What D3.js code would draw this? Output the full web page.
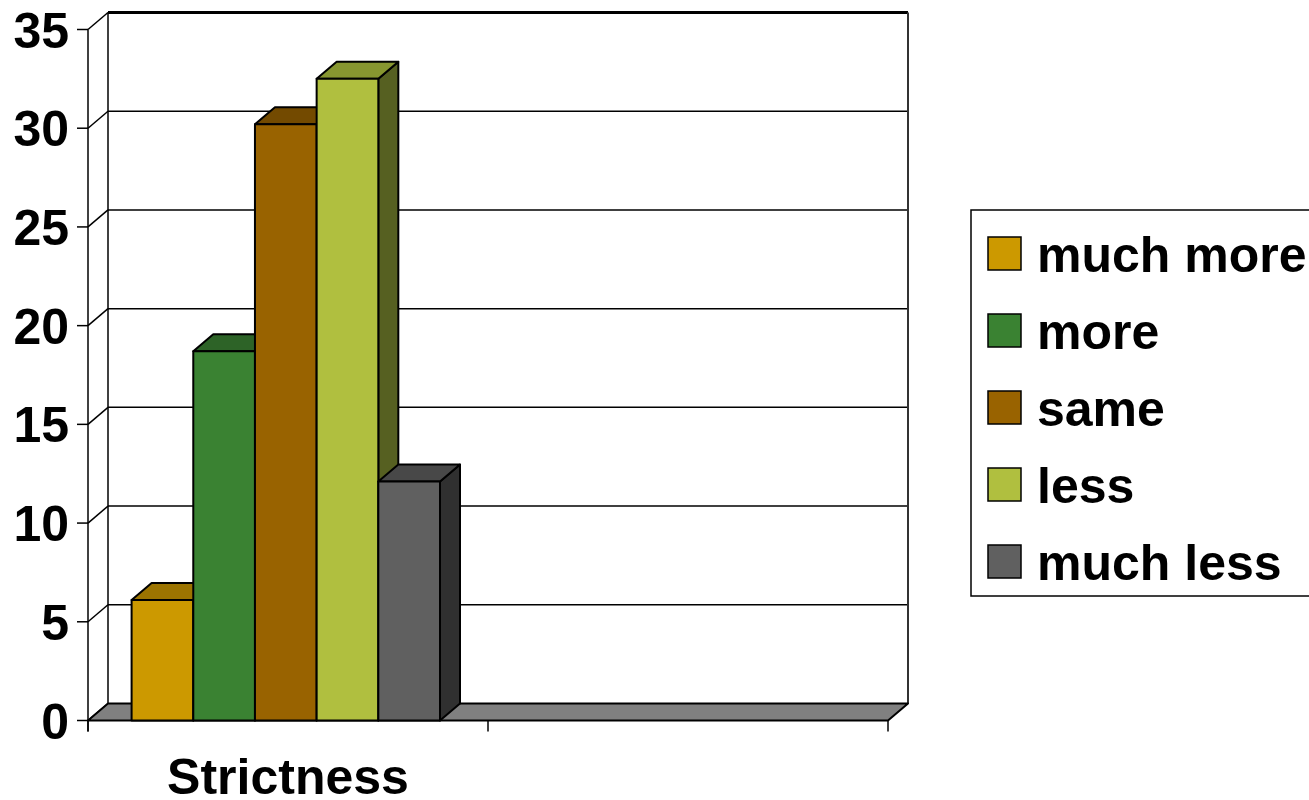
<!DOCTYPE html>
<html>
<head>
<meta charset="utf-8">
<script src="https://cdn.jsdelivr.net/npm/d3@7"></script>
<style>
  html, body { margin: 0; padding: 0; background: #fff; }
  svg { display: block; }
  text { font-family: "Liberation Sans", Arial, sans-serif; font-weight: bold; fill: #000; }
</style>
</head>
<body>
<svg id="chart" width="1309" height="800"></svg>
<script>
// Survey answers for one question, percent of respondents
const categories = ["Strictness", ""];
const seriesNames = ["much more", "more", "same", "less", "much less"];
const seriesValues = [6.1, 18.7, 30.2, 32.5, 12.1];
const yTicks = [0, 5, 10, 15, 20, 25, 30, 35];

// Face colours per series: front, top, side
const frontColors = ["#CC9900", "#3A8232", "#996300", "#B0BF3F", "#606060"];
const topColors   = ["#9C7400", "#2D6327", "#734A00", "#879630", "#484848"];
const sideColors  = ["#7A5B00", "#234D1E", "#5A3A00", "#566021", "#303030"];

const svg = d3.select("#chart");

// 3D projection: offset of the back plane relative to the front plane
const DX = 20, DY = 17;

const x0 = d3.scaleBand().domain(categories).range([88, 888]);
const y = d3.scaleLinear().domain([0, 35]).range([720.5, 29.5]);
const x1 = d3.scaleBand().domain(seriesNames)
  .range([x0.bandwidth() * 0.109, x0.bandwidth() * 0.880]);

const xL = x0.range()[0], xR = x0.range()[1];

// Back wall and left side wall
const walls = svg.append("g");
walls.selectAll("line.grid").data(yTicks.slice(1, -1)).join("line")
  .attr("x1", xL + DX).attr("x2", xR + DX)
  .attr("y1", d => y(d) - DY).attr("y2", d => y(d) - DY)
  .attr("stroke", "#000").attr("stroke-width", 1.5);
walls.selectAll("line.side").data(yTicks).join("line")
  .attr("x1", xL).attr("x2", xL + DX)
  .attr("y1", d => y(d)).attr("y2", d => y(d) - DY)
  .attr("stroke", "#000").attr("stroke-width", 1.5);
// top edge of back wall
walls.append("line")
  .attr("x1", xL + DX).attr("x2", xR + DX)
  .attr("y1", y(35) - DY).attr("y2", y(35) - DY)
  .attr("stroke", "#000").attr("stroke-width", 3);
// vertical edges of back wall
walls.append("line")
  .attr("x1", xL + DX).attr("x2", xL + DX)
  .attr("y1", y(35) - DY).attr("y2", y(0) - DY)
  .attr("stroke", "#000").attr("stroke-width", 1.5);
walls.append("line")
  .attr("x1", xR + DX).attr("x2", xR + DX)
  .attr("y1", y(35) - DY).attr("y2", y(0) - DY)
  .attr("stroke", "#333").attr("stroke-width", 2);

// Floor
svg.append("polygon")
  .attr("points", [[xL, y(0)], [xL + DX, y(0) - DY], [xR + DX, y(0) - DY], [xR, y(0)]].map(p => p.join(",")).join(" "))
  .attr("fill", "#808080").attr("stroke", "#000").attr("stroke-width", 2).attr("stroke-linejoin", "round");

// Front value axis
const axisG = svg.append("g");
axisG.append("line")
  .attr("x1", xL).attr("x2", xL).attr("y1", y(35)).attr("y2", y(0) + 11)
  .attr("stroke", "#000").attr("stroke-width", 1.5);
axisG.selectAll("line.tick").data(yTicks).join("line")
  .attr("x1", xL - 11).attr("x2", xL)
  .attr("y1", d => y(d)).attr("y2", d => y(d))
  .attr("stroke", "#000").attr("stroke-width", 1.5);
axisG.selectAll("text").data(yTicks).join("text")
  .attr("x", 69).attr("y", d => y(d)).attr("dy", "0.36em")
  .attr("text-anchor", "end").attr("font-size", 50)
  .text(d => d);

// Category axis ticks and label
const catTicks = [xL, x0(categories[1]), xR];
svg.selectAll("line.ctick").data(catTicks).join("line")
  .attr("x1", d => d).attr("x2", d => d)
  .attr("y1", y(0)).attr("y2", y(0) + 11)
  .attr("stroke", "#000").attr("stroke-width", 1.5);
svg.append("text")
  .attr("x", x0(categories[0]) + x0.bandwidth() / 2)
  .attr("y", 794).attr("text-anchor", "middle").attr("font-size", 50)
  .text(categories[0]);

// Bars, drawn left to right so each bar hides its neighbour's side face
const bars = svg.append("g");
seriesNames.forEach((name, i) => {
  const v = seriesValues[i];
  const xa = x0(categories[0]) + x1(name);
  const xb = xa + x1.bandwidth();
  const yt = y(v), yb = y(0);
  const g = bars.append("g");
  const poly = (pts, fill) => g.append("polygon")
    .attr("points", pts.map(q => q.join(",")).join(" "))
    .attr("fill", fill).attr("stroke", "#000")
    .attr("stroke-width", 2).attr("stroke-linejoin", "round");
  poly([[xb, yt], [xb + DX, yt - DY], [xb + DX, yb - DY], [xb, yb]], sideColors[i]);
  poly([[xa, yt], [xa + DX, yt - DY], [xb + DX, yt - DY], [xb, yt]], topColors[i]);
  poly([[xa, yt], [xb, yt], [xb, yb], [xa, yb]], frontColors[i]);
});

// Legend
const legend = svg.append("g").attr("transform", "translate(971,210)");
legend.append("rect")
  .attr("x", 0).attr("y", 0).attr("width", 360).attr("height", 386)
  .attr("fill", "#fff").attr("stroke", "#000").attr("stroke-width", 1.5);
const rows = legend.selectAll("g.row").data(seriesNames).join("g")
  .attr("transform", (d, i) => `translate(0,${43.5 + i * 77})`);
rows.append("rect")
  .attr("x", 17).attr("y", -16.5).attr("width", 33).attr("height", 33)
  .attr("fill", (d, i) => frontColors[i]).attr("stroke", "#000").attr("stroke-width", 1.5);
rows.append("text")
  .attr("x", 66).attr("y", 18.5).attr("font-size", 50)
  .text(d => d);
</script>
</body>
</html>
